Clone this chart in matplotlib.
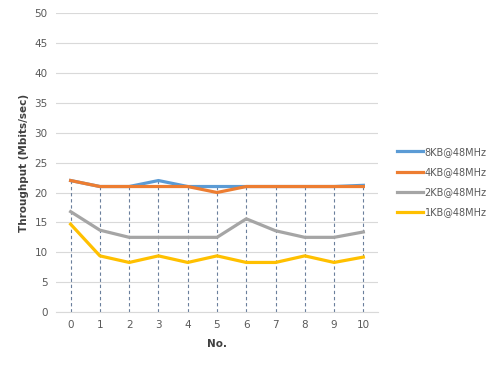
import matplotlib.pyplot as plt
import numpy as np

runs = list(range(11))
tput_8kb = [22, 21, 21, 22, 21, 21, 21, 21, 21, 21, 21.2]
tput_4kb = [22, 21, 21, 21, 21, 20, 21, 21, 21, 21, 21]
tput_2kb = [16.8, 13.7, 12.5, 12.5, 12.5, 12.5, 15.6, 13.6, 12.5, 12.5, 13.4]
tput_1kb = [14.7, 9.4, 8.3, 9.4, 8.3, 9.4, 8.3, 8.3, 9.4, 8.3, 9.2]
labels = ["8KB@48MHz", "4KB@48MHz", "2KB@48MHz", "1KB@48MHz"]
colors = ["#5b9bd5", "#ed7d31", "#a5a5a5", "#ffc000"]

fig = plt.figure(figsize=(5, 3.65), dpi=100)
ax = fig.add_axes([0.112, 0.145, 0.644, 0.819])

series = [tput_8kb, tput_4kb, tput_2kb, tput_1kb]
top = np.max(series, axis=0)
ax.vlines(runs, 0, top, colors="#6a7f9c", linestyles=(0, (3, 2.5)), linewidth=0.8, zorder=1)

for vals, lab, col in zip(series, labels, colors):
    ax.plot(runs, vals, color=col, linewidth=2.3, label=lab, zorder=2)

ax.set_xlim(-0.5, 10.5)
ax.set_ylim(0, 50)
ax.set_yticks(range(0, 51, 5))
ax.set_xticks(runs)
ax.grid(axis="y", color="#d9d9d9", linewidth=0.8)
ax.set_axisbelow(True)
for s in ["top", "right", "left"]:
    ax.spines[s].set_visible(False)
ax.spines["bottom"].set_color("#d9d9d9")
ax.tick_params(length=0, labelsize=7.5, labelcolor="#595959", pad=6)

ax.set_xlabel("No.", fontsize=7.5, fontweight="bold", color="#404040", labelpad=6)
ax.set_ylabel("Throughput (Mbits/sec)", fontsize=7.5, fontweight="bold", color="#404040", labelpad=4)

ax.legend(loc="center left", bbox_to_anchor=(1.047, 0.435), borderaxespad=0, frameon=False,
          fontsize=7, handlelength=2.7, handletextpad=0.15, labelspacing=1.05, labelcolor="#595959")

plt.savefig("out.png", dpi=100)
